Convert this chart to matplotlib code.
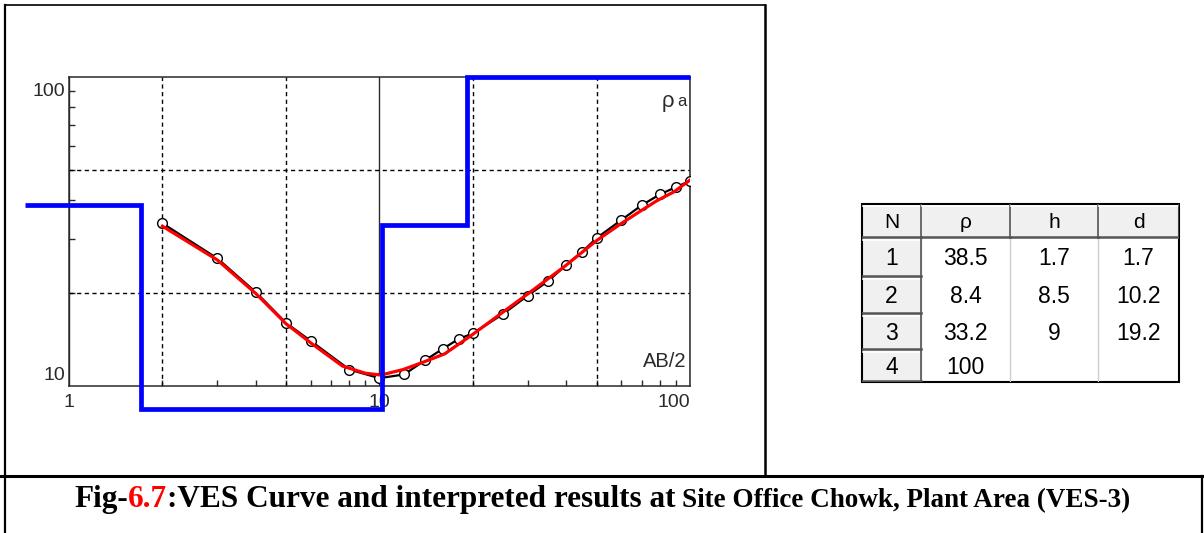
import matplotlib

matplotlib.use('Agg')
import matplotlib.pyplot as plt
import matplotlib.transforms as mtransforms
from matplotlib.lines import Line2D
from matplotlib.patches import Rectangle
from matplotlib.ticker import FixedLocator, NullFormatter

W, H = 1204, 533
plt.rcParams['font.family'] = ['Liberation Sans', 'DejaVu Sans']

# field sounding: AB/2 (m) vs apparent resistivity (ohm-m)
ab2 = [2, 3, 4, 5, 6, 8, 10, 12, 14, 16, 18, 20, 25, 30, 35, 40, 45, 50,
       60, 70, 80, 90, 100]
rho_obs = [33.6, 25.9, 20.1, 16.0, 14.0, 11.3, 10.6, 10.9, 12.1, 13.2, 14.2,
           14.8, 17.1, 19.6, 21.9, 24.7, 27.2, 30.1, 34.4, 38.5, 41.7, 44.0,
           46.1]

# computed (model) curve
ab2_fit = [2.0, 3.0, 4.0, 5.0, 6.0, 7.6, 9.0, 10.1, 11.9, 13.7, 16.2, 19.8,
           24.7, 29.7, 39.3, 49.9, 59.1, 68.6, 78.3, 88.8, 100]
rho_fit = [32.9, 25.6, 19.9, 15.9, 13.8, 11.6, 11.0, 10.85, 11.3, 11.9, 12.7,
           14.6, 17.2, 19.7, 24.3, 29.5, 33.2, 36.6, 39.8, 42.5, 46.4]

# interpreted layer model
layer_n = ['1', '2', '3', '4']
layer_rho = [38.5, 8.4, 33.2, 100]
layer_h = [1.7, 8.5, 9]
layer_d = [1.7, 10.2, 19.2]
MODEL_X0, MODEL_X1 = 0.72, 100  # drawn extent of the step model

x_major = [1, 10, 100]
x_major_lbl = ['1', '10', '100']
y_major = [10, 100]
y_major_lbl = ['10', '100']
minor_x = [2, 3, 4, 5, 6, 7, 8, 9, 20, 30, 40, 50, 60, 70, 80, 90]
minor_y = [20, 30, 40, 50, 60, 70, 80, 90]
grid_x = [2, 5, 20, 50]
grid_y = [20, 50]

INK = '#2a2a2a'
BLUE = '#0000ff'
RED = '#ff0000'


def fx(px):
    return px / W


def fy(py):
    return 1 - py / H


fig = plt.figure(figsize=(W / 100, H / 100), dpi=100)

# ---- sounding curve
ax = fig.add_axes([fx(69), fy(386), (690 - 69) / W, (386 - 77) / H])
ax.set_xscale('log')
ax.set_yscale('log')
ax.set_xlim(1, 100)
ax.set_ylim(10, 100)

for g in grid_x:
    ax.axvline(g, color='k', lw=1, ls=(0, (3, 2.5)), zorder=1)
for g in grid_y:
    ax.axhline(g, color='k', lw=1, ls=(0, (3, 2.5)), zorder=1)

ax.xaxis.set_major_locator(FixedLocator(x_major))
ax.set_xticklabels(x_major_lbl)
ax.xaxis.set_minor_locator(FixedLocator(minor_x))
ax.xaxis.set_minor_formatter(NullFormatter())
ax.yaxis.set_major_locator(FixedLocator(y_major))
ax.yaxis.set_minor_locator(FixedLocator(minor_y))
ax.yaxis.set_minor_formatter(NullFormatter())
ax.tick_params(axis='y', which='major', labelleft=False)
ax.xaxis.grid(True, which='major', color=INK, lw=1, ls='-')
ax.set_axisbelow(True)

ax.tick_params(which='major', length=0, labelsize=14, labelcolor=INK, pad=6)
ax.tick_params(which='minor', direction='in', length=4.5, width=1, color=INK)
ax.get_xticklabels()[-1].set_ha('right')
for s in ax.spines.values():
    s.set_color(INK)
    s.set_linewidth(1.1)

# y labels sit just inside the decade, as in the original software
ylab_tr = mtransforms.blended_transform_factory(ax.transAxes, ax.transData)
for val, lbl, dy in zip(y_major, y_major_lbl, [11, -14]):
    ax.text(-0.006, val, lbl, ha='right', va='center', fontsize=14, color=INK,
            transform=mtransforms.offset_copy(ylab_tr, fig, y=dy, units='dots'),
            clip_on=False)

ax.plot(ab2, rho_obs, color='k', lw=1.6, zorder=3)
ax.plot(ab2, rho_obs, 'o', ms=7, mfc='white', mec='k', mew=1, zorder=4)
ax.plot(ab2_fit, rho_fit, color=RED, lw=2.3, zorder=5)

edges = [MODEL_X0] + layer_d + [MODEL_X1]
ax.stairs(layer_rho, edges, baseline=None, color=BLUE, lw=3.4,
          clip_on=False, zorder=6)

ax.text(0.975, 0.955, 'ρ', transform=ax.transAxes, ha='right', va='top',
        fontsize=16, color=INK)
ax.text(0.995, 0.945, 'a', transform=ax.transAxes, ha='right', va='top',
        fontsize=12, color=INK)
ax.text(0.995, 0.05, 'AB/2', transform=ax.transAxes, ha='right',
        va='bottom', fontsize=14.5, color=INK)

# ---- layer table
tx0, ty0, tx1, ty1 = 862, 204, 1179, 382
col_edges = [0, 59, 148, 236, 317]
row_edges = [0, 34, 73, 110, 146, 178]
tab = fig.add_axes([fx(tx0), fy(ty1), (tx1 - tx0) / W, (ty1 - ty0) / H])
tab.set_xlim(0, col_edges[-1])
tab.set_ylim(row_edges[-1], 0)
tab.axis('off')

header = ['N', 'ρ', 'h', 'd']
rows = []
for i, n in enumerate(layer_n):
    rows.append([n,
                 f'{layer_rho[i]:g}',
                 f'{layer_h[i]:g}' if i < len(layer_h) else '',
                 f'{layer_d[i]:g}' if i < len(layer_d) else ''])

GRAY = '#f0f0f0'
EDGE = '#555555'
for c in range(1, 4):
    tab.plot([col_edges[c]] * 2, [row_edges[1], row_edges[-1]],
             color='#cccccc', lw=1)


def button(x0, x1, y0, y1):
    tab.add_patch(Rectangle((x0, y0), x1 - x0, y1 - y0, fc=GRAY, ec='none'))
    tab.plot([x0 + 1, x1 - 1], [y0 + 1.5, y0 + 1.5], color='white', lw=1.2)
    tab.plot([x0, x1], [y1 - 1, y1 - 1], color=EDGE, lw=1.8)
    tab.plot([x1 - 0.5, x1 - 0.5], [y0, y1], color=EDGE, lw=1.2)


for c in range(4):
    button(col_edges[c], col_edges[c + 1], row_edges[0], row_edges[1])
    tab.text((col_edges[c] + col_edges[c + 1]) / 2,
             (row_edges[0] + row_edges[1]) / 2 + 1, header[c],
             ha='center', va='center', fontsize=15, color='k')
for r, row in enumerate(rows):
    y0, y1 = row_edges[r + 1], row_edges[r + 2]
    button(col_edges[0], col_edges[1], y0, y1)
    for c, val in enumerate(row):
        tab.text((col_edges[c] + col_edges[c + 1]) / 2, (y0 + y1) / 2 + 1,
                 val, ha='center', va='center', fontsize=16.5, color='k')
tab.add_patch(Rectangle((0, 0), col_edges[-1], row_edges[-1], fc='none',
                        ec='k', lw=1.5, clip_on=False))

# ---- document frame
frame = [((5, 5), (765, 5), 1.2), ((5, 5), (5, 533), 1.6),
         ((765, 5), (765, 476), 1.8), ((0, 476), (1204, 476), 2.2),
         ((1202, 476), (1202, 533), 1.6)]
for (x0, y0), (x1, y1), lw in frame:
    fig.add_artist(Line2D([fx(x0), fx(x1)], [fy(y0), fy(y1)], color='k',
                          lw=lw, transform=fig.transFigure))

# ---- caption, pieces laid out left to right
caption = [('Fig-', 'k', 22.5), ('6.7', RED, 22.5),
           (':VES Curve and interpreted results at', 'k', 22.5),
           ('Site Office Chowk, Plant Area (VES-3)', 'k', 19.5)]
renderer = fig.canvas.get_renderer()
x = 74
for i, (txt, col, size) in enumerate(caption):
    if i == 3:
        x += 7
    t = fig.text(fx(x), fy(507), txt, color=col, fontsize=size,
                 fontweight='bold', family='Liberation Serif', va='baseline')
    x = t.get_window_extent(renderer).x1

fig.savefig('out.png', dpi=100)
